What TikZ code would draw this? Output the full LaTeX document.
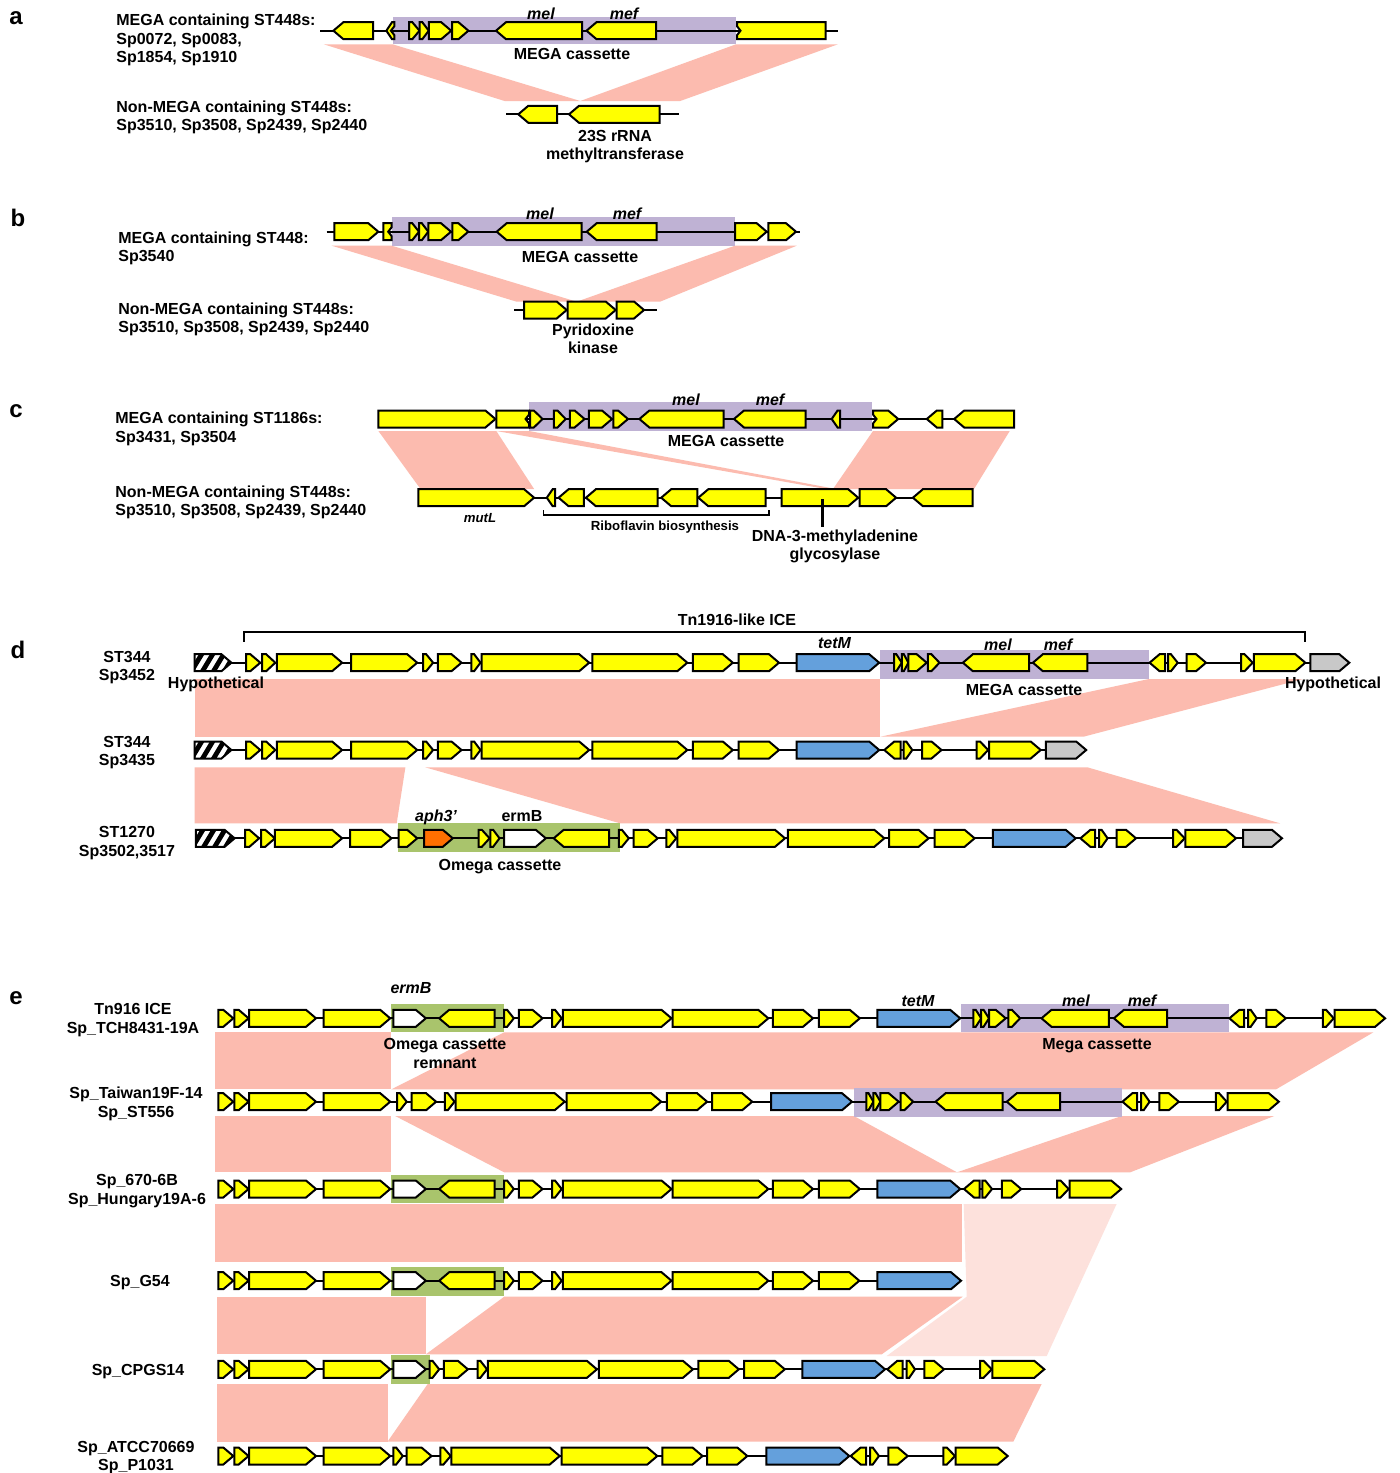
\documentclass[tikz,border=0pt]{standalone}
\usepackage{fontspec}
\setmainfont{Liberation Sans}
\definecolor{gy}{HTML}{FFFF00}
\definecolor{gblue}{HTML}{64A0DC}
\definecolor{gorange}{HTML}{FF6F00}
\definecolor{ggrey}{HTML}{C8C8C8}
\definecolor{purp}{HTML}{BFB2D4}
\definecolor{grn}{HTML}{A9C46C}
\definecolor{pinkb}{HTML}{FCBBAF}
\definecolor{pinkl}{HTML}{FDE1DC}
\tikzset{
  gene/.style={draw=black, line width=1pt, line join=miter},
  bbline/.style={draw=black, line width=1.1pt},
  lab/.style={font=\bfseries\fontsize{8}{9.6}\selectfont, inner sep=0pt, anchor=base, yshift=-2.8pt},
  labw/.style={lab, anchor=base west},
  labi/.style={lab, font=\bfseries\itshape\fontsize{8}{9.6}\selectfont},
  labs/.style={lab, font=\bfseries\fontsize{6.6}{8}\selectfont, yshift=-0.4pt},
  letter/.style={font=\bfseries\fontsize{12}{14}\selectfont, inner sep=0pt},
}
\newcommand\gR[4][gy]{\pgfmathsetmacro\hl{min(10,0.7*(#3-#2))}%
  \draw[gene,fill=#1] (#2,#4-8.5) -- (#3-\hl,#4-8.5) -- (#3,#4) -- (#3-\hl,#4+8.5) -- (#2,#4+8.5) -- cycle;}
\newcommand\gL[4][gy]{\pgfmathsetmacro\hl{min(10,0.7*(#3-#2))}%
  \draw[gene,fill=#1] (#3,#4-8.5) -- (#2+\hl,#4-8.5) -- (#2,#4) -- (#2+\hl,#4+8.5) -- (#3,#4+8.5) -- cycle;}
\newcommand\gB[4][gy]{\draw[gene,fill=#1] (#2,#4-8.5) rectangle (#3,#4+8.5);}
% notched variants
\newcommand\gLn[4][gy]{\pgfmathsetmacro\hl{min(10,0.7*(#3-#2))}%
  \draw[gene,fill=#1] (#3,#4-8.5) -- (#2+\hl,#4-8.5) -- (#2,#4) -- (#2+\hl,#4+8.5) -- (#3,#4+8.5)
   -- (#3,#4+4.5) -- (#3-3.5,#4) -- (#3,#4-4.5) -- cycle;}
\newcommand\gBn[4][gy]{\draw[gene,fill=#1] (#2,#4-8.5) -- (#3,#4-8.5) -- (#3,#4-4.5) -- (#3-3.5,#4) -- (#3,#4+4.5) -- (#3,#4+8.5) -- (#2,#4+8.5) -- cycle;}
\newcommand\gBln[4][gy]{\draw[gene,fill=#1] (#2,#4-8.5) -- (#3,#4-8.5) -- (#3,#4+8.5) -- (#2,#4+8.5) -- (#2,#4+4.5) -- (#2+3.5,#4) -- (#2,#4-4.5) -- cycle;}
\newcommand\gRln[4][gy]{\pgfmathsetmacro\hl{min(10,0.7*(#3-#2))}%
  \draw[gene,fill=#1] (#2,#4-8.5) -- (#3-\hl,#4-8.5) -- (#3,#4) -- (#3-\hl,#4+8.5) -- (#2,#4+8.5)
   -- (#2,#4+4.5) -- (#2+3.5,#4) -- (#2,#4-4.5) -- cycle;}
\newcommand\gH[3]{%
  \begin{scope}
  \clip (#1,#3-8.5) -- (#2-10,#3-8.5) -- (#2,#3) -- (#2-10,#3+8.5) -- (#1,#3+8.5) -- cycle;
  \fill[white] (#1,#3-9) rectangle (#2,#3+9);
  \foreach \k in {0,...,4}{\draw[line width=2.4pt] ({#1+\k*11-4},#3+10) -- ({#1+\k*11+8},#3-10);}
  \end{scope}
  \draw[gene] (#1,#3-8.5) -- (#2-10,#3-8.5) -- (#2,#3) -- (#2-10,#3+8.5) -- (#1,#3+8.5) -- cycle;}
\newcommand\bb[3]{\draw[bbline] (#1,#3) -- (#2,#3);}
\newcommand\pfx[1]{\gR{218.4}{233.3}{#1}\gR{234.4}{248.6}{#1}\gR{249}{316}{#1}\gR{323.6}{390.2}{#1}}
\begin{document}
\begin{tikzpicture}[x=0.5pt,y=-0.5pt]
\useasboundingbox[fill=white] (0,0) rectangle (1399,1473);

% ================= panel a =================
\node[letter] (La) at (16,18) {a};
\fill[pinkb] (323.8,44.3) -- (392.6,44.3) -- (580.3,101) -- (504.6,101) -- cycle;
\fill[pinkb] (736,44.3) -- (837.9,44.3) -- (680.2,101) -- (580.3,101) -- cycle;
\fill[purp] (392.6,16.7) rectangle (736,44.3);
\bb{320.3}{837.9}{30.7}
\gL{333.4}{373}{30.7}\gLn{386.4}{394.4}{30.7}
\gR{409.2}{419.5}{30.7}\gR{419.5}{428.8}{30.7}\gR{428.8}{451.2}{30.7}\gR{452.2}{468.4}{30.7}
\gL{496}{582}{30.7}\gL{586.5}{656.1}{30.7}\gBln{737}{825.5}{30.7}
\bb{506.3}{678.5}{114.3}
\gL{518.3}{557.2}{114.3}\gL{569}{659.5}{114.3}
\node[labi] (amel) at (541,14) {mel};
\node[labi] (amef) at (624,14) {mef};
\node[lab] (amega) at (572,54) {MEGA cassette};
\node[lab] (a23s) at (615,136) {23S rRNA};
\node[lab] (amt) at (615,154) {methyltransferase};
\node[labw] (al1) at (116,20) {MEGA containing ST448s:};
\node[labw] (al2) at (116,39) {Sp0072, Sp0083,};
\node[labw] (al3) at (116,57) {Sp1854, Sp1910};
\node[labw] (al4) at (116,107) {Non-MEGA containing ST448s:};
\node[labw] (al5) at (116,125) {Sp3510, Sp3508, Sp2439, Sp2440};

% ================= panel b =================
\node[letter] (Lb) at (18,218) {b};
\fill[pinkb] (331.7,245.7) -- (391.7,245.7) -- (576.7,301.7) -- (516.7,301.7) -- cycle;
\fill[pinkb] (735,245.7) -- (796.7,245.7) -- (660,301.7) -- (576.7,301.7) -- cycle;
\fill[purp] (391.7,216.7) rectangle (735,245.7);
\bb{326.7}{800}{231.7}
\gR{334.3}{378.3}{231.7}\gBn{383.3}{391.7}{231.7}
\gR{409.3}{419}{231.7}\gR{419}{428.3}{231.7}\gR{428.3}{451}{231.7}\gR{452.3}{468.3}{231.7}
\gL{496.7}{581.7}{231.7}\gL{586.7}{656.7}{231.7}
\gR{735}{766.7}{231.7}\gR{768.3}{796}{231.7}
\bb{514.3}{656.7}{310}
\gR{524}{566.7}{310}\gR{567.7}{615.7}{310}\gR{616.7}{644}{310}
\node[labi] (bmel) at (540,214) {mel};
\node[labi] (bmef) at (627,214) {mef};
\node[lab] (bmega) at (580,256.5) {MEGA cassette};
\node[lab] (bpy) at (593,329.5) {Pyridoxine};
\node[lab] (bki) at (593,348) {kinase};
\node[labw] (bl1) at (118,238) {MEGA containing ST448:};
\node[labw] (bl2) at (118,256) {Sp3540};
\node[labw] (bl3) at (118,308.5) {Non-MEGA containing ST448s:};
\node[labw] (bl4) at (118,327) {Sp3510, Sp3508, Sp2439, Sp2440};

% ================= panel c =================
\node[letter] (Lc) at (16,411) {c};
\fill[pinkb] (378.4,431) -- (496.3,431) -- (534.1,489) -- (420.5,489) -- cycle;
\fill[pinkb] (496.3,431) -- (529.1,431) -- (836,489) -- (826,489) -- cycle;
\fill[pinkb] (873,431) -- (1009.7,431) -- (974,489) -- (833,489) -- cycle;
\fill[purp] (529.1,402.3) rectangle (872.1,431);
\bb{378.4}{1014}{419}
\gR{378.4}{495.4}{419}\gBn{496.3}{529.1}{419}
\gR{530}{542.6}{419}\gR{553.9}{565.7}{419}\gR{569.9}{584.6}{419}\gR{588.9}{612}{419}\gR{613.3}{628}{419}
\gL{639.4}{723.5}{419}\gL{734}{805.6}{419}\gL{831.7}{840.1}{419}
\gRln{873}{898.2}{419}\gL{926.8}{942.4}{419}\gL{954.2}{1014}{419}
\bb{418.4}{972.7}{497.7}
\gR{418.4}{534.1}{497.7}\gL{546.8}{555.2}{497.7}\gL{558.6}{583.8}{497.7}\gL{585.9}{657.5}{497.7}
\gL{661.2}{697.4}{497.7}\gL{698.3}{765.6}{497.7}
\gR{781.6}{858.2}{497.7}\gR{859.5}{896.1}{497.7}\gL{912.9}{972.7}{497.7}
\coordinate (dnatop) at (822.4,499);
\coordinate (dnabot) at (822.4,527);
\draw[line width=1.1pt] (dnatop) -- (dnabot);
\draw[line width=0.8pt] (543.4,510) -- (543.4,515) -- (769,515) -- (769,510);
\node[labi] (cmel) at (686,400) {mel};
\node[labi] (cmef) at (770,400) {mef};
\node[lab] (cmega) at (726,441) {MEGA cassette};
\node[labs, font=\bfseries\itshape\fontsize{6.6}{8}\selectfont] (cmut) at (480,516.5) {mutL};
\node[labs] (crib) at (665,524) {Riboflavin biosynthesis};
\node[lab] (cdna) at (835,536) {DNA-3-methyladenine};
\node[lab] (cgly) at (835,554) {glycosylase};
\node[labw] (cl1) at (115,418) {MEGA containing ST1186s:};
\node[labw] (cl2) at (115,437) {Sp3431, Sp3504};
\node[labw] (cl3) at (115,492) {Non-MEGA containing ST448s:};
\node[labw] (cl4) at (115,510) {Sp3510, Sp3508, Sp2439, Sp2440};

% ================= panel d =================
\node[letter] (Ld) at (18,650) {d};
\fill[pinkb] (194.6,679) rectangle (880.4,736.7);
\fill[pinkb] (1148.9,679) -- (1303,679) -- (1083.5,736.7) -- (880.4,736.7) -- cycle;
\fill[pinkb] (194.6,767.3) -- (405.4,767.3) -- (396.7,823.3) -- (194.6,823.3) -- cycle;
\fill[pinkb] (425.2,767.3) -- (1087.4,767.3) -- (1280,823.3) -- (620.1,823.3) -- cycle;
\fill[purp] (880.4,650) rectangle (1148.9,679);
\fill[grn] (397.5,823.3) rectangle (620.1,852.3);
\draw[line width=0.9pt] (244,641.7) -- (244,631.7) -- (1305.3,631.7) -- (1305.3,641.7);
% row d1
\bb{231}{1310}{662.7}
\gH{194.6}{231.4}{662.7}
\gR{246}{260.3}{662.7}\gR{262.2}{275.3}{662.7}\gR{276.9}{342.1}{662.7}\gR{351.2}{417.2}{662.7}
\gR{423.2}{433.1}{662.7}\gR{437.8}{461.5}{662.7}\gR{471.4}{480.5}{662.7}\gR{481.7}{589.2}{662.7}
\gR{592.4}{687.3}{662.7}\gR{692.9}{732.8}{662.7}\gR{738.7}{779}{662.7}
\gR[gblue]{796.7}{879.2}{662.7}
\gR{894}{901.8}{662.7}\gR{901.8}{908.4}{662.7}\gR{908.4}{926.7}{662.7}\gR{927.9}{939.5}{662.7}
\gL{962.9}{1029}{662.7}\gL{1032.9}{1087.4}{662.7}
\gL{1149.6}{1165.2}{662.7}\gR{1168}{1177.7}{662.7}\gR{1186.6}{1206}{662.7}
\gR{1241}{1252.7}{662.7}\gR{1253.9}{1305.3}{662.7}\gR[ggrey]{1310.4}{1349.3}{662.7}
% row d2
\bb{231}{1046}{750}
\gH{194.6}{231.4}{750}
\gR{246}{260.3}{750}\gR{262.2}{275.3}{750}\gR{276.9}{342.1}{750}\gR{351.2}{417.2}{750}
\gR{423.2}{433.1}{750}\gR{437.8}{461.5}{750}\gR{471.4}{480.5}{750}\gR{481.7}{589.2}{750}
\gR{592.4}{687.3}{750}\gR{692.9}{732.8}{750}\gR{738.7}{779}{750}
\gR[gblue]{796.7}{879.2}{750}
\gL{884.3}{900.6}{750}\gR{903.7}{912.3}{750}\gR{922}{941.5}{750}
\gR{976.5}{988.2}{750}\gR{989}{1040.7}{750}\gR[ggrey]{1045.8}{1086.2}{750}
% row d3
\bb{234}{1243}{838.3}
\gH{195.8}{234.6}{838.3}
\gR{245.2}{259.1}{838.3}\gR{261.1}{274.9}{838.3}\gR{274.9}{342.1}{838.3}\gR{350}{391.5}{838.3}
\gR{398.7}{417.2}{838.3}\gR[gorange]{424}{452.8}{838.3}
\gR{478.5}{489.6}{838.3}\gR{490.4}{499.5}{838.3}\gR[white]{504.2}{545.8}{838.3}\gL{553.7}{609}{838.3}
\gR{618.9}{628.8}{838.3}\gR{633.5}{657.7}{838.3}\gR{666.4}{676.2}{838.3}\gR{677.4}{785}{838.3}
\gR{787.8}{884.3}{838.3}\gR{889}{928.6}{838.3}\gR{934.5}{974.6}{838.3}
\gR[gblue]{992.8}{1075.7}{838.3}
\gL{1080.4}{1095.2}{838.3}\gR{1099}{1107.6}{838.3}\gR{1116.6}{1136}{838.3}
\gR{1173}{1184.7}{838.3}\gR{1185.4}{1236}{838.3}\gR[ggrey]{1243}{1282}{838.3}
\node[lab] (dice) at (737,620) {Tn1916-like ICE};
\node[labi] (dtet) at (834.5,643) {tetM};
\node[labi] (dmel) at (998,644.5) {mel};
\node[labi] (dmef) at (1058,644.5) {mef};
\node[lab] (dmega) at (1024,690) {MEGA cassette};
\node[lab] (dhyp1) at (216,683) {Hypothetical};
\node[lab] (dhyp2) at (1333,683) {Hypothetical};
\node[labi] (daph) at (436,816) {aph3’};
\node[lab] (derm) at (522,816) {ermB};
\node[lab] (domega) at (500,864.5) {Omega cassette};
\node[lab] (dl1) at (127,657) {ST344};
\node[lab] (dl2) at (127,675) {Sp3452};
\node[lab] (dl3) at (127,742) {ST344};
\node[lab] (dl4) at (127,760) {Sp3435};
\node[lab] (dl5) at (127,832) {ST1270};
\node[lab] (dl6) at (127,851) {Sp3502,3517};

% ================= panel e =================
\node[letter] (Le) at (16,998) {e};
\fill[pinkb] (215.3,1032.3) rectangle (391.4,1089.3);
\fill[pinkb] (504.2,1032.3) -- (1373.4,1032.3) -- (1276.1,1089.3) -- (391.4,1089.3) -- cycle;
\fill[pinkb] (215.3,1116) rectangle (391.4,1172.3);
\fill[pinkb] (395.2,1116) -- (853.9,1116) -- (957,1172.3) -- (504.2,1172.3) -- cycle;
\fill[pinkb] (1121.6,1116) -- (1274.2,1116) -- (1130.2,1172.3) -- (957,1172.3) -- cycle;
\fill[pinkb] (215.3,1204) rectangle (962.3,1261.7);
\fill[pinkl] (963.7,1204) -- (1116.6,1204) -- (1046.7,1356) -- (886.7,1356) -- (966.7,1296.7) -- cycle;
\fill[pinkb] (216.5,1296.7) rectangle (425.8,1354.3);
\fill[pinkb] (504.2,1296.7) -- (962.7,1296.7) -- (881.7,1354.3) -- (425.8,1354.3) -- cycle;
\fill[pinkb] (216.5,1384) rectangle (387.5,1441.7);
\fill[pinkb] (427.7,1384) -- (1041.7,1384) -- (1013.3,1441.7) -- (387.5,1441.7) -- cycle;
\fill[grn] (391.4,1004) rectangle (504.2,1032.3);
\fill[purp] (961,1004) rectangle (1228.6,1032.3);
\fill[purp] (853.9,1087.7) rectangle (1121.6,1116.7);
\fill[grn] (391.4,1175) rectangle (504.2,1203.3);
\fill[grn] (391.4,1267.3) rectangle (504.2,1295.7);
\fill[grn] (391.4,1355) rectangle (429.6,1384);
% row e1
\bb{218.4}{1385.1}{1018.3}
\pfx{1018.3}
\gR[white]{393.3}{425.8}{1018.3}\gL{439.2}{494.7}{1018.3}
\gR{504.2}{513.8}{1018.3}\gR{518.8}{542.5}{1018.3}\gR{552.1}{561.7}{1018.3}\gR{562.8}{671.5}{1018.3}
\gR{672.6}{768.3}{1018.3}\gR{772.9}{813}{1018.3}\gR{818.9}{859.8}{1018.3}
\gR[gblue]{877.3}{960.2}{1018.3}
\gR{973.4}{981.2}{1018.3}\gR{981.2}{989}{1018.3}\gR{989}{1005.7}{1018.3}\gR{1008.4}{1020.1}{1018.3}
\gL{1041.5}{1108.8}{1018.3}\gL{1113.9}{1167.2}{1018.3}
\gL{1229.4}{1244.2}{1018.3}\gR{1248.1}{1256.7}{1018.3}\gR{1266.4}{1285.8}{1018.3}
\gR{1322.8}{1333.7}{1018.3}\gR{1334.5}{1385.1}{1018.3}
% row e2
\bb{218.4}{1278.8}{1101.7}
\pfx{1101.7}
\gR{397.1}{406.7}{1101.7}\gR{411.6}{436.1}{1101.7}\gR{444.9}{454.5}{1101.7}\gR{455.6}{564.7}{1101.7}
\gR{566.6}{661.2}{1101.7}\gR{666.9}{707.1}{1101.7}\gR{712.1}{752.2}{1101.7}
\gR[gblue]{771}{852}{1101.7}
\gR{866.4}{873.4}{1101.7}\gR{873.4}{880.4}{1101.7}\gR{880.4}{898.7}{1101.7}\gR{900.6}{913.1}{1101.7}
\gL{935.6}{1002.6}{1101.7}\gL{1006.8}{1060.2}{1101.7}
\gL{1122.4}{1137.2}{1101.7}\gR{1141.1}{1149.6}{1101.7}\gR{1159.4}{1178.8}{1101.7}
\gR{1215.8}{1226.7}{1101.7}\gR{1227.5}{1278.8}{1101.7}
% row e3
\bb{218.4}{1121.2}{1189}
\pfx{1189}
\gR[white]{393.3}{425.8}{1189}\gL{439.2}{494.7}{1189}
\gR{504.2}{513.8}{1189}\gR{518.8}{542.5}{1189}\gR{552.1}{561.7}{1189}\gR{562.8}{671.5}{1189}
\gR{672.6}{768.3}{1189}\gR{772.9}{813}{1189}\gR{818.9}{859.8}{1189}
\gR[gblue]{877.3}{960.2}{1189}
\gL{964}{979.6}{1189}\gR{982.3}{992}{1189}\gR{1001.8}{1021.2}{1189}
\gR{1057}{1068.7}{1189}\gR{1069.5}{1121.2}{1189}
% row e4
\bb{218.4}{961}{1280.7}
\pfx{1280.7}
\gR[white]{393.3}{425.8}{1280.7}\gL{439.2}{494.7}{1280.7}
\gR{504.2}{513.8}{1280.7}\gR{518.8}{542.5}{1280.7}\gR{552.1}{561.7}{1280.7}\gR{562.8}{671.5}{1280.7}
\gR{672.6}{768.3}{1280.7}\gR{772.9}{813}{1280.7}\gR{818.9}{859.3}{1280.7}
\gR[gblue]{877.3}{961}{1280.7}
% row e5
\bb{218.4}{1044.3}{1369.3}
\pfx{1369.3}
\gR[white]{393.3}{425.8}{1369.3}\gR{429.6}{439.2}{1369.3}\gR{443.8}{467.9}{1369.3}
\gR{477.5}{487}{1369.3}\gR{487.8}{596.9}{1369.3}\gR{598.8}{692.9}{1369.3}
\gR{698.3}{738.8}{1369.3}\gR{744.2}{784.8}{1369.3}
\gR[gblue]{802.3}{885}{1369.3}
\gL{887.3}{902.7}{1369.3}\gR{906.7}{915}{1369.3}\gR{924.3}{944}{1369.3}
\gR{980}{991.7}{1369.3}\gR{992.3}{1044.3}{1369.3}
% row e6
\bb{218.4}{1007.7}{1456}
\pfx{1456}
\gR{393.3}{402.8}{1456}\gR{406.7}{431.5}{1456}\gR{440.3}{450.7}{1456}\gR{451.4}{559.7}{1456}
\gR{561.7}{657.3}{1456}\gR{662.3}{702.5}{1456}\gR{707.1}{747.3}{1456}
\gR[gblue]{766.4}{849.3}{1456}
\gL{850.7}{866}{1456}\gR{870}{879}{1456}\gR{888.3}{907.7}{1456}
\gR{943.3}{955}{1456}\gR{955.7}{1007.7}{1456}
\node[labi] (eerm) at (411,988) {ermB};
\node[labi] (etet) at (918,1000.5) {tetM};
\node[labi] (emel) at (1076,1000.5) {mel};
\node[labi] (emef) at (1142,1000.5) {mef};
\node[lab] (eom1) at (445,1044) {Omega cassette};
\node[lab] (eom2) at (445,1063) {remnant};
\node[lab] (emega) at (1097,1044) {Mega cassette};
\node[lab] (el1) at (133,1009) {Tn916 ICE};
\node[lab] (el2) at (133,1028) {Sp\_TCH8431-19A};
\node[lab] (el3) at (136,1093) {Sp\_Taiwan19F-14};
\node[lab] (el4) at (136,1112) {Sp\_ST556};
\node[lab] (el5) at (137,1180) {Sp\_670-6B};
\node[lab] (el6) at (137,1199) {Sp\_Hungary19A-6};
\node[lab] (el7) at (140,1281) {Sp\_G54};
\node[lab] (el8) at (138,1370) {Sp\_CPGS14};
\node[lab] (el9) at (136,1447) {Sp\_ATCC70669};
\node[lab] (el10) at (136,1465) {Sp\_P1031};
\end{tikzpicture}
\end{document}
